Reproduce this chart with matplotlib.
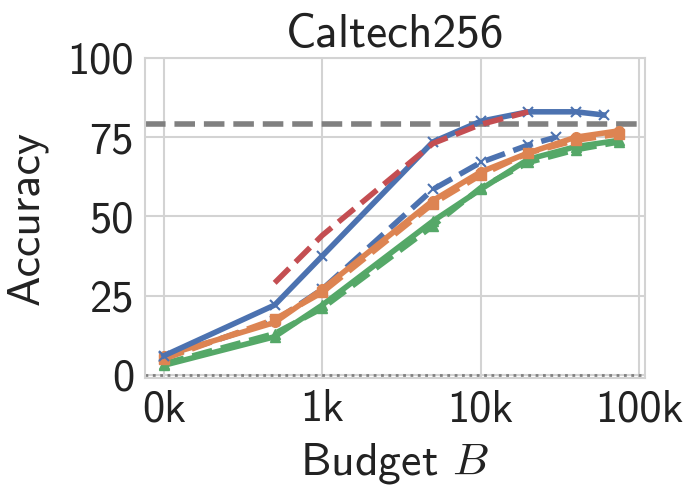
import matplotlib
matplotlib.use("Agg")
import matplotlib.pyplot as plt
from matplotlib.ticker import FuncFormatter

# budgets (x values) per series
budget_a = [100, 500, 1000, 5000, 10000, 20000, 40000, 60000]
budget_b = [100, 500, 1000, 5000, 10000, 20000, 40000, 75000]
budget_red = [500, 1000, 5000, 10000, 20000]
budget_bd = [100, 500, 1000, 5000, 10000, 20000, 30000]

blue_solid = [6, 22, 37.5, 73.5, 80, 83, 83, 82]
red_dashed = [29, 44, 73, 79, 83]
blue_dashed = [5.5, 17, 27, 58.5, 67, 72.5, 75]
orange_solid = [6, 16.5, 27, 55, 64, 70, 75, 77]
orange_dashed = [5, 17.5, 26, 54, 63, 70, 74, 76]
green_solid = [3, 12, 22, 48.5, 58.5, 68, 72, 74]
green_dashed = [3.5, 13, 21, 47, 59, 67, 71, 73.5]
reference_acc = 79

blue = "#4C72B0"
orange = "#DD8452"
green = "#55A868"
red = "#C44E52"

plt.rcParams["font.family"] = ["cmss10", "DejaVu Sans"]
plt.rcParams["mathtext.fontset"] = "cm"
plt.rcParams["axes.unicode_minus"] = False

fig = plt.figure(figsize=(6.88, 4.87), dpi=100)
ax = fig.add_axes([0.211, 0.224, 0.727, 0.657])

lw = 4
ms = 7
ax.plot(budget_b, green_dashed, "--", color=green, lw=lw, marker="^", ms=ms)
ax.plot(budget_b, green_solid, "-", color=green, lw=lw, marker="^", ms=ms)
ax.plot(budget_bd, blue_dashed, "--", color=blue, lw=lw, marker="x", ms=ms, mew=1.5)
ax.plot(budget_b, orange_dashed, "--", color=orange, lw=lw, marker="s", ms=ms)
ax.plot(budget_b, orange_solid, "-", color=orange, lw=lw, marker="o", ms=ms)
ax.plot(budget_a, blue_solid, "-", color=blue, lw=lw, marker="x", ms=ms, mew=1.5)
ax.plot(budget_red, red_dashed, "--", color=red, lw=lw)

ax.axhline(reference_acc, color="#808080", ls="--", lw=4, zorder=1)
ax.axhline(0, color="#808080", ls=":", lw=2, zorder=1)

ax.set_xscale("log")
ax.set_xlim(76, 110000)
ax.set_ylim(-1, 100)
ax.set_xticks([100, 1000, 10000, 100000])
ax.xaxis.set_major_formatter(FuncFormatter(lambda v, p: f"{v/1000:.0f}k"))
ax.minorticks_off()
ax.set_yticks([0, 25, 50, 75, 100])

ax.grid(True, color="#d3d3d3", lw=1.5)
ax.set_axisbelow(True)
for s in ax.spines.values():
    s.set_color("#d3d3d3")
    s.set_linewidth(1.5)
ax.tick_params(length=0, labelsize=32, pad=8, colors="#222222")

ax.set_title("Caltech256", fontsize=34, color="#222222", pad=8)
ax.set_xlabel("Budget $B$", fontsize=33, color="#222222", labelpad=8)
ax.set_ylabel("Accuracy", fontsize=33, color="#222222", labelpad=14)

fig.savefig("out.png", dpi=100)
